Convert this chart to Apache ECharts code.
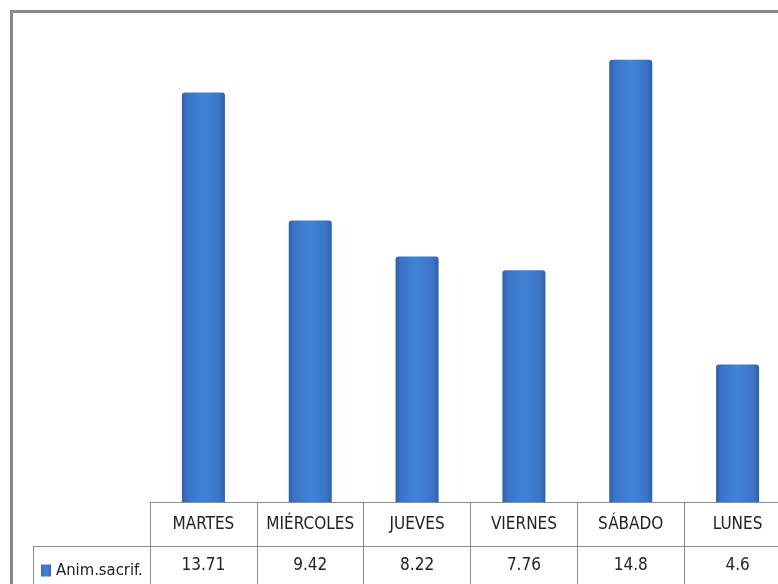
<!DOCTYPE html>
<html>
<head>
<meta charset="utf-8">
<script src="https://cdn.jsdelivr.net/npm/echarts@6/dist/echarts.min.js"></script>
<style>
html,body{margin:0;padding:0;background:#fff;overflow:hidden;width:778px;height:584px;}
#c{width:792px;height:584px;}
</style>
</head>
<body>
<div id="c"></div>
<script>
var categories = ['MARTES', 'MIÉRCOLES', 'JUEVES', 'VIERNES', 'SÁBADO', 'LUNES'];
var values = [13.71, 9.42, 8.22, 7.76, 14.8, 4.6];
var valueLabels = ['13.71', '9.42', '8.22', '7.76', '14.8', '4.6'];
var seriesName = 'Anim.sacrif.';

var FONT = '"DejaVu Sans Condensed", "Liberation Sans Narrow", "DejaVu Sans", sans-serif';
var chart = echarts.init(document.getElementById('c'));
var barColor = new echarts.graphic.LinearGradient(0, 0, 1, 0, [
  {offset: 0, color: '#2d5fa6'},
  {offset: 0.12, color: '#3a74c6'},
  {offset: 0.5, color: '#4283d6'},
  {offset: 0.88, color: '#3a74c6'},
  {offset: 1, color: '#2d5fa6'}
]);
chart.setOption({
  animation: false,
  backgroundColor: '#ffffff',
  grid: {left: 150, top: 24, width: 641, height: 478, containLabel: false},
  legend: {
    show: true, left: 36, top: 557, itemWidth: 10, itemHeight: 12, itemGap: 4,
    icon: 'rect',
    textStyle: {fontFamily: FONT, fontSize: 16.5, color: '#222'},
    data: [seriesName]
  },
  xAxis: [{
    type: 'category', data: categories, position: 'bottom',
    axisLine: {show: true, lineStyle: {color: '#8c8c8c', width: 1}},
    axisTick: {show: true, length: 90, alignWithLabel: false, lineStyle: {color: '#8c8c8c'}},
    axisLabel: {margin: 14, fontFamily: FONT, fontSize: 17, color: '#222', interval: 0}
  }, {
    type: 'category', data: categories, position: 'bottom', offset: 44,
    axisLine: {show: true, lineStyle: {color: '#8c8c8c', width: 1}},
    axisTick: {show: false},
    axisLabel: {margin: 11, fontFamily: FONT, fontSize: 17, color: '#222', interval: 0,
      formatter: function (v, i) { return valueLabels[i]; }}
  }],
  yAxis: {
    type: 'value', min: 0, max: 16, show: false,
    splitLine: {show: false}
  },
  series: [{
    name: seriesName, type: 'bar', data: values, barWidth: 43, xAxisIndex: 0,
    itemStyle: {color: barColor, borderRadius: [3, 3, 0, 0]}
  }],
  graphic: [
    {type: 'rect', shape: {x: 11, y: 10, width: 781, height: 3}, style: {fill: '#8a8a8a'}},
    {type: 'rect', shape: {x: 10, y: 10, width: 3, height: 574}, style: {fill: '#8a8a8a'}},
    {type: 'line', shape: {x1: 33, y1: 546.5, x2: 150, y2: 546.5}, style: {stroke: '#8c8c8c', lineWidth: 1}},
    {type: 'line', shape: {x1: 33.5, y1: 546, x2: 33.5, y2: 584}, style: {stroke: '#8c8c8c', lineWidth: 1}}
  ]
});
</script>
</body>
</html>
